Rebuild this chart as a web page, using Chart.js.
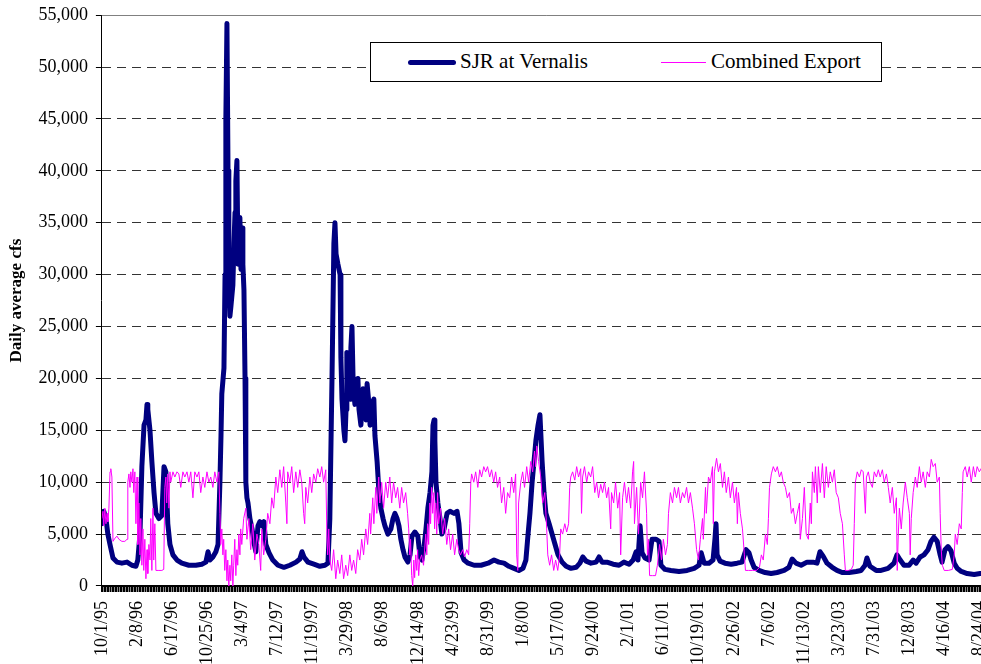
<!DOCTYPE html>
<html>
<head>
<meta charset="utf-8">
<script src="https://cdn.jsdelivr.net/npm/chart.js@4"></script>
<style>
  body { margin: 0; background: #fff; }
  #wrap { position: relative; width: 981px; height: 664px; overflow: hidden; }
  #legend { position: absolute; left: 370px; top: 42px; width: 510px; height: 38px; border: 1px solid #000; background: #fff;
    font-family: 'Liberation Serif', serif; font-size: 21px; color: #000; }
  #legend span { position: absolute; white-space: nowrap; }
</style>
</head>
<body>
<div id="wrap">
  <canvas id="chart" width="1021" height="674"></canvas>
  <div id="legend">
    <span style="left:37px; top:17px; width:48px; height:5px; background:#000080; border-radius:3px;"></span>
    <span style="left:89px; top:6px;">SJR at Vernalis</span>
    <span style="left:290px; top:19px; width:45px; height:1px; background:#ff00ff;"></span>
    <span style="left:340px; top:6px;">Combined Export</span>
  </div>
</div>
<script>
// days counted from 10/1/95, daily average cfs
const sjrPoints = [
  [0,6000],[7,7200],[15,6500],[22,5000],[30,4000],[41,2700],[56,2300],[74,2200],[93,2300],[111,2000],
  [126,1900],[133,2500],[141,5000],[148,11500],[156,15500],[163,16000],[167,17500],[170,17000],[178,15000],
  [185,12000],[193,9000],[200,7000],[211,6500],[222,6800],[230,11500],[237,11000],[244,6000],[252,4000],
  [263,3000],[278,2500],[296,2200],[322,2000],[348,2000],[370,2100],[385,2300],[393,3300],[400,2500],
  [411,2800],[422,3300],[430,4000],[437,10000],[441,14500],[444,18500],[452,21000],[456,30000],[459,45000],
  [463,54200],[467,40000],[470,30000],[474,26000],[478,27000],[485,29000],[489,33000],[493,36000],
  [496,39000],[500,41000],[504,31000],[507,33500],[511,35500],[515,30500],[519,34500],[522,31000],
  [526,28500],[530,20000],[533,10000],[537,8500],[541,8000],[548,6500],[556,5500],[563,4200],[570,3300],
  [578,5800],[585,6200],[593,5800],[600,6200],[607,4000],[619,3200],[633,2500],[652,2000],[674,1800],
  [696,2000],[719,2300],[733,2600],[741,3300],[748,2800],[763,2300],[785,2100],[807,1900],[826,2000],
  [837,2200],[844,6500],[852,20000],[859,33000],[863,35000],[867,32000],[874,31000],[882,30000],
  [885,22000],[889,18000],[896,15000],[900,14000],[904,17000],[907,22500],[911,20000],[915,21000],
  [919,18000],[922,23000],[926,25000],[930,20000],[933,18500],[937,17500],[941,19000],[948,20000],
  [952,17000],[959,15500],[967,19000],[974,17500],[978,16000],[982,19500],[989,17500],[993,15500],
  [1000,17500],[1007,18000],[1011,14500],[1019,12000],[1026,9000],[1033,7500],[1041,6500],[1048,5800],
  [1059,5000],[1070,5500],[1078,6500],[1085,7000],[1093,6500],[1100,5800],[1107,4500],[1115,3500],
  [1122,2800],[1133,2300],[1141,3000],[1148,4800],[1159,5200],[1170,4800],[1178,2800],[1185,2500],
  [1193,3800],[1200,5500],[1207,7500],[1215,9000],[1222,11000],[1226,15500],[1230,16000],[1233,14000],
  [1237,10000],[1244,8000],[1252,6500],[1259,5000],[1267,5500],[1278,7000],[1289,7200],[1304,7000],
  [1315,7200],[1322,6000],[1330,3200],[1341,2500],[1356,2200],[1378,2000],[1404,2000],[1430,2200],
  [1452,2500],[1470,2300],[1489,2200],[1507,1900],[1526,1700],[1544,1500],[1559,1700],[1570,2500],
  [1578,5000],[1585,7000],[1593,10000],[1600,12000],[1607,14000],[1615,15500],[1622,16500],[1630,12000],
  [1637,9000],[1644,7000],[1656,6000],[1667,5000],[1678,4000],[1689,3000],[1704,2300],[1719,1900],
  [1737,1700],[1756,1800],[1770,2200],[1781,2800],[1793,2400],[1811,2200],[1830,2300],[1841,2800],
  [1852,2300],[1870,2300],[1893,2100],[1915,2000],[1933,2300],[1952,2100],[1967,2500],[1978,3300],
  [1985,2500],[1993,5800],[2000,3200],[2011,2700],[2026,2500],[2037,4500],[2052,4500],[2063,4300],
  [2070,2000],[2085,1600],[2107,1500],[2137,1400],[2167,1500],[2193,1700],[2211,2000],[2219,3200],
  [2230,2200],[2248,2200],[2263,2500],[2270,4500],[2274,6000],[2278,3000],[2289,2400],[2307,2200],
  [2330,2100],[2352,2200],[2370,2300],[2385,3500],[2396,3200],[2404,2500],[2415,1800],[2433,1500],
  [2456,1300],[2478,1200],[2500,1300],[2526,1500],[2544,1800],[2556,2600],[2570,2200],[2589,2000],
  [2611,2300],[2633,2300],[2648,2200],[2659,3300],[2670,2900],[2685,2200],[2704,1800],[2722,1500],
  [2741,1300],[2767,1300],[2793,1400],[2811,1500],[2826,2000],[2833,2700],[2844,1900],[2867,1500],
  [2885,1500],[2911,1700],[2933,2200],[2944,3000],[2956,2500],[2970,2000],[2989,2000],[3004,2500],
  [3015,2200],[3030,2800],[3044,3000],[3059,3500],[3070,4300],[3081,4700],[3093,4300],[3104,3000],
  [3111,2300],[3122,3500],[3133,3800],[3144,3400],[3156,2200],[3167,1700],[3182,1400],[3204,1200],
  [3230,1100],[3252,1200],[3287,1200]
];

const exportPoints = [
  [0,6500],[4,7200],[7,5800],[11,7500],[15,6000],[19,7000],[22,6200],[26,7500],[30,11000],[33,11300],
  [37,10500],[41,4300],[48,4600],[56,4800],[63,4500],[74,4300],[85,4300],[93,4500],[96,10000],[100,10800],
  [104,9500],[107,11000],[111,10000],[115,11300],[118,9000],[122,11000],[126,6000],[130,10500],[133,4000],
  [137,8000],[141,3000],[144,6500],[148,2000],[152,5500],[155,1500],[159,4500],[163,700],[167,3500],
  [170,1200],[174,4000],[178,2500],[181,6500],[185,1500],[189,7500],[192,2500],[196,6000],[200,1500],
  [211,1500],[222,1500],[229,1600],[233,9500],[237,10500],[240,8000],[244,10800],[248,7500],[252,11000],
  [255,10000],[263,11000],[270,10500],[278,11000],[285,10800],[292,9500],[300,11000],[307,10500],
  [315,11000],[322,10000],[329,11000],[337,8500],[344,11000],[352,10500],[359,11000],[366,9000],
  [374,10500],[381,9500],[389,11000],[396,10000],[403,10500],[411,9500],[418,11000],[426,10000],
  [433,11000],[437,7000],[440,4000],[444,5500],[448,3000],[451,4500],[455,1500],[459,3500],[463,500],
  [466,2500],[470,0],[474,2000],[477,500],[481,3000],[485,0],[488,2000],[492,4500],[496,1000],[500,3500],
  [503,2000],[507,5000],[511,3000],[514,5500],[518,4000],[525,6500],[533,7500],[537,4500],[544,6500],
  [551,3500],[559,6000],[566,2500],[574,5000],[581,4000],[588,1500],[592,5500],[599,3000],[607,4500],
  [614,7000],[622,6000],[629,8500],[636,7500],[644,10500],[651,9000],[659,11200],[666,9500],[673,11500],
  [681,8000],[685,6000],[688,11000],[696,10000],[703,11500],[710,9000],[718,11000],[725,9500],[733,11200],
  [740,10000],[747,7000],[751,6000],[755,9500],[762,8000],[770,10500],[777,9000],[784,10800],[792,10000],
  [799,11300],[807,10500],[814,11500],[821,10000],[829,11200],[833,5000],[836,3000],[840,5500],[844,2500],
  [851,1500],[858,3500],[866,700],[873,2500],[881,1200],[888,3000],[895,700],[903,2000],[910,1000],
  [918,3000],[925,1500],[932,2500],[940,1200],[947,3500],[955,2500],[962,4500],[969,3000],[977,5500],
  [984,4000],[992,7000],[995,5000],[1003,8500],[1007,6000],[1014,9500],[1018,7000],[1025,10500],
  [1029,8000],[1036,10000],[1043,7500],[1051,10000],[1058,8500],[1066,10500],[1073,8000],[1080,10000],
  [1088,8500],[1095,9500],[1103,7500],[1110,9500],[1117,8000],[1125,9000],[1132,7000],[1136,5500],
  [1140,3000],[1143,4500],[1147,1000],[1151,0],[1155,2500],[1158,800],[1162,3000],[1166,1500],[1169,3500],
  [1173,1000],[1177,2500],[1184,3000],[1191,2000],[1199,5000],[1203,3000],[1206,6000],[1210,4000],
  [1214,8000],[1217,6000],[1221,9500],[1225,7000],[1229,9000],[1232,5500],[1236,8000],[1240,5000],
  [1243,9000],[1247,6000],[1254,7500],[1262,5000],[1269,6500],[1277,4000],[1284,5500],[1291,3500],
  [1299,5000],[1306,3000],[1314,4500],[1321,3500],[1328,3000],[1336,3500],[1343,2800],[1351,3500],
  [1358,3000],[1362,6000],[1366,10000],[1369,10800],[1377,10000],[1384,11000],[1392,9500],[1399,11200],
  [1406,10500],[1414,11500],[1421,11000],[1428,11500],[1436,10500],[1443,11200],[1451,10000],[1458,11000],
  [1465,9500],[1473,10500],[1480,8000],[1488,9500],[1495,7000],[1502,9000],[1510,8500],[1517,10500],
  [1525,9000],[1532,10800],[1536,3000],[1540,1500],[1543,8000],[1551,10000],[1558,11000],[1565,9500],
  [1573,11500],[1580,10000],[1588,12000],[1595,11000],[1602,13000],[1606,11500],[1610,13500],[1617,12000],
  [1625,10500],[1632,8000],[1640,9000],[1647,5500],[1651,3000],[1658,2000],[1665,3000],[1673,1500],
  [1680,2500],[1688,1500],[1695,3000],[1699,5500],[1706,5000],[1714,6000],[1721,5200],[1728,6000],
  [1732,9500],[1736,10500],[1743,11000],[1751,10200],[1758,11500],[1765,10500],[1773,11300],[1776,7000],
  [1780,10500],[1787,11500],[1795,10000],[1802,11000],[1810,10500],[1817,11500],[1825,9000],[1832,10000],
  [1839,8500],[1847,9800],[1854,9000],[1861,10000],[1869,8500],[1876,9500],[1884,5500],[1887,9000],
  [1895,8000],[1902,10000],[1910,7500],[1917,9000],[1921,3000],[1928,8500],[1935,10000],[1943,8000],
  [1950,9500],[1958,7500],[1965,11000],[1969,12000],[1972,6000],[1980,9500],[1987,5000],[1995,10000],
  [2002,8500],[2009,11000],[2017,7000],[2020,3000],[2024,4500],[2028,1000],[2039,1000],[2050,1000],
  [2057,2000],[2065,4000],[2072,2500],[2079,4500],[2087,3000],[2094,4000],[2098,7000],[2105,9000],
  [2113,8000],[2120,9500],[2128,8500],[2135,9500],[2142,8000],[2150,9000],[2157,8500],[2165,9500],
  [2172,8000],[2179,9000],[2187,7500],[2194,6000],[2202,3500],[2209,2500],[2216,4500],[2224,6500],
  [2227,4500],[2235,9500],[2238,7000],[2246,10500],[2253,10000],[2261,11500],[2264,6000],[2268,11000],
  [2276,12300],[2283,11000],[2290,11800],[2298,9500],[2305,11000],[2312,9000],[2320,10500],[2327,8500],
  [2335,10000],[2342,8000],[2350,9500],[2353,6000],[2357,9000],[2364,7000],[2372,5500],[2379,3000],
  [2383,1500],[2394,1500],[2409,1500],[2424,1500],[2435,1800],[2442,3000],[2449,2500],[2457,5000],
  [2464,4000],[2468,6500],[2472,9500],[2479,10800],[2486,11500],[2494,11000],[2501,11500],[2509,10500],
  [2516,11000],[2523,10000],[2531,9500],[2538,8500],[2546,9000],[2553,7000],[2560,7500],[2568,6000],
  [2575,7000],[2583,8000],[2586,4500],[2594,6500],[2601,9500],[2608,5000],[2616,4500],[2623,8000],
  [2627,6000],[2631,11000],[2638,9000],[2642,11500],[2649,8000],[2653,11500],[2660,9000],[2668,11800],
  [2675,8500],[2682,11500],[2690,9500],[2697,11000],[2705,10000],[2712,11200],[2719,9000],[2727,8500],
  [2734,7000],[2742,6000],[2749,3000],[2753,1500],[2764,1500],[2775,1600],[2782,2000],[2786,6000],
  [2790,10000],[2797,11000],[2805,10500],[2812,11200],[2819,11000],[2827,7000],[2831,10500],[2838,11000],
  [2845,10000],[2853,9500],[2860,11000],[2868,10500],[2875,11200],[2882,10500],[2890,11200],[2897,10000],
  [2905,10800],[2912,9500],[2919,8000],[2927,9500],[2934,7000],[2942,8500],[2945,1500],[2949,5000],
  [2953,7500],[2960,5500],[2967,8000],[2975,10000],[2982,8500],[2990,7000],[2993,3000],[2997,6500],
  [3004,9000],[3012,10500],[3019,9500],[3027,11500],[3034,10000],[3041,11000],[3049,9500],[3056,11000],
  [3064,10500],[3071,12200],[3078,11500],[3086,11800],[3093,10000],[3101,10500],[3104,7000],[3108,3500],
  [3112,2000],[3119,1500],[3134,1500],[3149,1600],[3156,3000],[3160,5000],[3167,4000],[3175,6000],
  [3182,5500],[3186,9000],[3189,11000],[3197,11500],[3204,10500],[3212,11500],[3219,10000],[3227,11500],
  [3234,10500],[3241,11500],[3249,11000],[3260,11500],[3275,11000],[3287,11500]
];

const startDate = [1995, 9, 1];
const labelEvery = 130;
const stripeEvery = 10;
const yTicks = { min: 0, max: 55000, step: 5000 };

const serif = "'Liberation Serif', 'Times New Roman', serif";

function dayLabel(v) {
  const d = new Date(Date.UTC(startDate[0], startDate[1], startDate[2] + v));
  const yy = String(d.getUTCFullYear() % 100).padStart(2, '0');
  return (d.getUTCMonth() + 1) + '/' + d.getUTCDate() + '/' + yy;
}

// gray frame line on top + the dark tick band under the date axis
const plotFrame = {
  id: 'plotFrame',
  afterDraw(chart) {
    const { ctx, chartArea } = chart;
    const xs = chart.scales.x;
    ctx.save();
    ctx.setLineDash([]);
    ctx.strokeStyle = '#808080';
    ctx.lineWidth = 1;
    ctx.beginPath();
    ctx.moveTo(chartArea.left, Math.round(chartArea.top) + 0.5);
    ctx.lineTo(chartArea.right, Math.round(chartArea.top) + 0.5);
    ctx.stroke();

    const y0 = Math.round(chartArea.bottom);
    ctx.fillStyle = '#000';
    ctx.fillRect(chartArea.left, y0, chartArea.right - chartArea.left, 6);
    ctx.strokeStyle = '#8a8a8a';
    ctx.beginPath();
    for (let v = stripeEvery / 2; v <= xs.max; v += stripeEvery) {
      const px = Math.round(xs.getPixelForValue(v)) + 0.5;
      ctx.moveTo(px, y0 + 1);
      ctx.lineTo(px, y0 + 6);
    }
    ctx.stroke();
    ctx.restore();
  }
};

new Chart(document.getElementById('chart'), {
  type: 'line',
  data: {
    datasets: [
      {
        label: 'Combined Export',
        data: exportPoints.map(p => ({ x: p[0], y: p[1] })),
        borderColor: '#ff00ff',
        borderWidth: 1,
        pointRadius: 0,
        tension: 0
      },
      {
        label: 'SJR at Vernalis',
        data: sjrPoints.map(p => ({ x: p[0], y: p[1] })),
        borderColor: '#000080',
        borderWidth: 5,
        pointRadius: 0,
        tension: 0,
        borderJoinStyle: 'round',
        borderCapStyle: 'round'
      }
    ]
  },
  options: {
    responsive: false,
    animation: false,
    layout: { padding: { left: 0, top: 7, right: 9, bottom: 0 } },
    plugins: { legend: { display: false }, tooltip: { enabled: false } },
    scales: {
      x: {
        type: 'linear',
        min: 0,
        max: 3290,
        grid: { drawOnChartArea: false, drawTicks: true, tickLength: 6, tickColor: '#000' },
        border: { color: '#000', width: 1 },
        ticks: {
          stepSize: 10,
          autoSkip: false,
          minRotation: 90,
          maxRotation: 90,
          padding: 9,
          color: '#000',
          font: { family: serif, size: 18 },
          callback: v => (v % labelEvery === 0 ? dayLabel(v) : '')
        }
      },
      y: {
        min: yTicks.min,
        max: yTicks.max,
        grid: { color: '#333', lineWidth: 1, tickLength: 6, tickColor: '#000' },
        border: { color: '#000', width: 1, dash: [9, 6] },
        ticks: {
          stepSize: yTicks.step,
          padding: 8,
          color: '#000',
          font: { family: serif, size: 18, lineHeight: 0.8 },
          callback: v => v.toLocaleString('en-US')
        },
        title: {
          display: true,
          text: 'Daily average cfs',
          color: '#000',
          font: { family: serif, size: 17, weight: 'bold' },
          padding: { top: 6, bottom: 4 }
        }
      }
    }
  },
  plugins: [plotFrame]
});
</script>
</body>
</html>
